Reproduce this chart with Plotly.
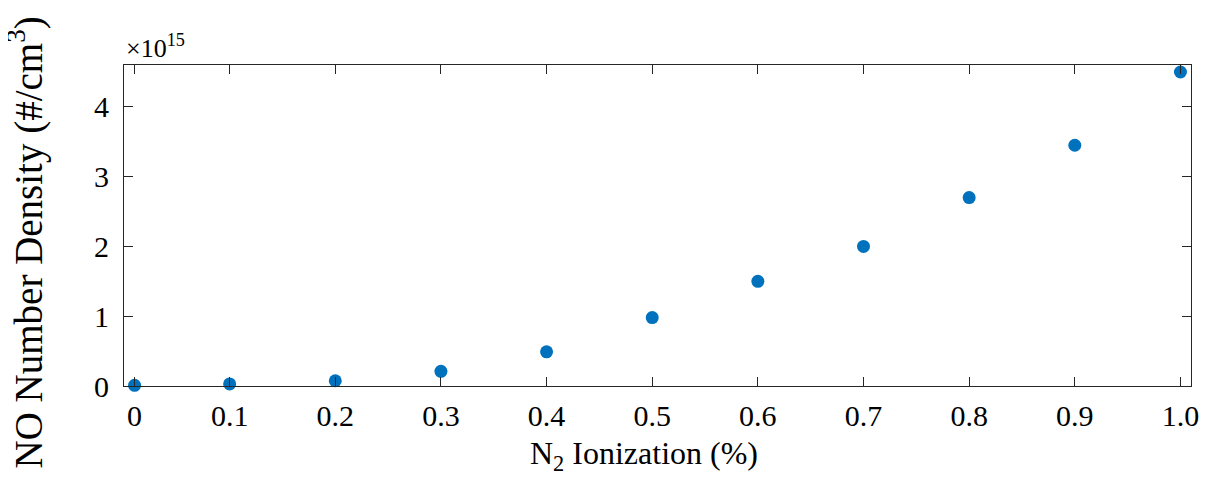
import plotly.graph_objects as go

ionization = [0.01, 0.1, 0.2, 0.3, 0.4, 0.5, 0.6, 0.7, 0.8, 0.9, 1.0]
no_density = [0.01e15, 0.03e15, 0.075e15, 0.21e15, 0.49e15, 0.98e15, 1.50e15, 2.00e15, 2.70e15, 3.45e15, 4.50e15]

x_tickvals = [0.01, 0.1, 0.2, 0.3, 0.4, 0.5, 0.6, 0.7, 0.8, 0.9, 1.0]
x_ticktext = ["0", "0.1", "0.2", "0.3", "0.4", "0.5", "0.6", "0.7", "0.8", "0.9", "1.0"]
y_tickvals = [0, 1e15, 2e15, 3e15, 4e15]
y_ticktext = ["0", "1", "2", "3", "4"]

FONT = "Liberation Serif"
AXC = "#262626"

fig = go.Figure()
fig.add_trace(go.Scatter(
    x=ionization, y=no_density, mode="markers",
    marker=dict(color="#0072BD", size=13, line=dict(width=0)),
    showlegend=False, cliponaxis=False,
))

axis_common = dict(
    showgrid=False, zeroline=False, showline=True, linecolor=AXC, linewidth=1,
    mirror="ticks", ticks="inside", ticklen=9, tickwidth=1, tickcolor=AXC,
    tickfont=dict(family=FONT, size=30, color="#000000"),
)

fig.update_xaxes(
    range=[0, 1.01], tickmode="array", tickvals=x_tickvals, ticktext=x_ticktext,
    ticklabelstandoff=3,
    **axis_common,
)
fig.update_yaxes(
    range=[0, 4.6e15], tickmode="array", tickvals=y_tickvals, ticktext=y_ticktext,
    ticklabelstandoff=8,
    **axis_common,
)

# axis titles
fig.add_annotation(
    text="N<sub>2</sub> Ionization (%)", xref="paper", yref="paper", x=0.5, y=0,
    xanchor="center", yanchor="middle", xshift=-13.5, yshift=-69,
    showarrow=False, font=dict(family=FONT, size=32, color="#000000"),
)
fig.add_annotation(
    text="NO Number Density (#/cm<sup>3</sup>)", xref="paper", yref="paper", x=0, y=0.5,
    xanchor="center", yanchor="middle", xshift=-98, yshift=-17, textangle=-90,
    showarrow=False, borderpad=0, font=dict(family=FONT, size=39, color="#000000"),
)

# exponent label
fig.add_annotation(
    text="×10<sup>15</sup>", xref="paper", yref="paper", x=0, y=1, xanchor="left", yanchor="bottom",
    showarrow=False, font=dict(family=FONT, size=26, color="#000000"), xshift=0,
)

fig.update_layout(
    width=1206, height=472,
    margin=dict(l=116, r=23, t=57, b=94),
    paper_bgcolor="white", plot_bgcolor="white",
)

fig.write_html("out.html")
